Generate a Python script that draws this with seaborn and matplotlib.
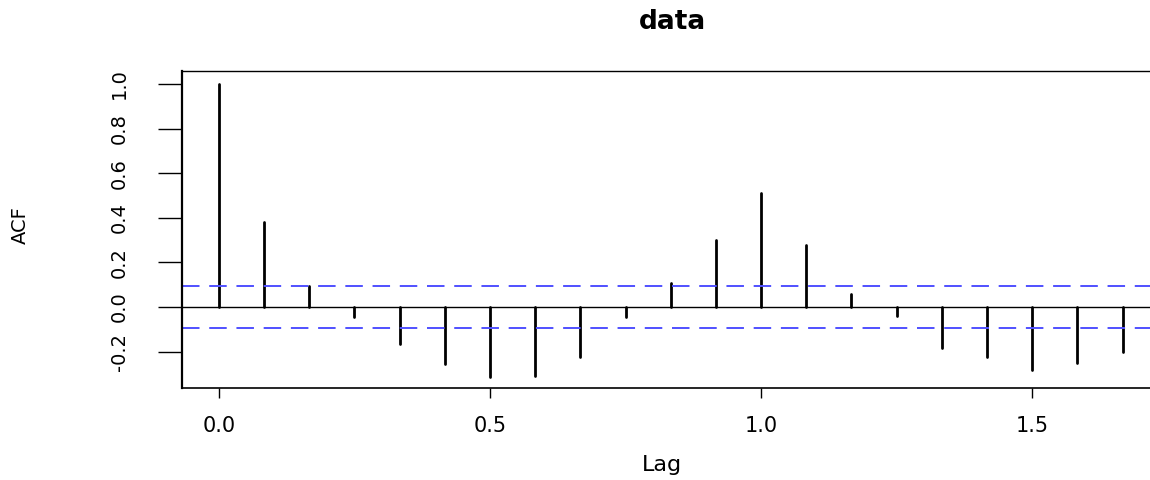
import numpy as np
import pandas as pd
import seaborn as sns
import matplotlib
matplotlib.use("Agg")
import matplotlib.pyplot as plt

# ACF values (monthly series, lag in years)
lags = [0, 1/12, 2/12, 3/12, 4/12, 5/12, 6/12, 7/12, 8/12, 9/12, 10/12,
        11/12, 1.0, 13/12, 14/12, 15/12, 16/12, 17/12, 18/12, 19/12, 20/12]
acf = [1.0, 0.383, 0.094, -0.043, -0.166, -0.256, -0.312, -0.31, -0.226, -0.043, 0.106,
       0.299, 0.511, 0.278, 0.06, -0.04, -0.185, -0.226, -0.281, -0.253, -0.2]
ci = 0.094
yticks = [-0.2, 0.0, 0.2, 0.4, 0.6, 0.8, 1.0]
xticks = [0.0, 0.5, 1.0, 1.5]

sns.set_theme(style="ticks")
plt.rcParams['font.family'] = ['DejaVu Sans']
plt.rcParams['text.color'] = 'black'
plt.rcParams['axes.labelcolor'] = 'black'

# long table: each stem goes from 0 to the acf value
stems = pd.DataFrame({
    'lag': np.repeat(lags, 2),
    'acf': np.ravel([[0.0, v] for v in acf]),
    'k': np.repeat(np.arange(len(lags)), 2),
})

fig = plt.figure(figsize=(11.5, 4.8), dpi=100)
ax = fig.add_axes([182/1150, 1 - 388/480, (1152 - 182)/1150, (388 - 71)/480])

sns.lineplot(data=stems, x='lag', y='acf', units='k', estimator=None,
             color='black', lw=2.0, ax=ax, legend=False)

ax.axhline(0, color='black', lw=1.0)
for c in (ci, -ci):
    ax.axhline(c, color='#5050ff', lw=1.4, dashes=(9, 5))

ax.set_xlim(-0.068, 1.721)
ax.set_ylim(-0.363, 1.058)
ax.set_xticks(xticks)
ax.set_xticklabels([f"{t:.1f}" for t in xticks])
ax.set_yticks(yticks)
ax.set_yticklabels([f"{t:.1f}" for t in yticks], rotation=90, va='center')
ax.tick_params(axis='x', length=7, width=1.0, pad=13, colors='black', labelsize=15)
ax.tick_params(axis='y', length=17, width=1.0, pad=21, colors='black', labelsize=14)

for side in ['left', 'bottom', 'top', 'right']:
    ax.spines[side].set_color('black')
ax.spines['left'].set_linewidth(1.6)
ax.spines['bottom'].set_linewidth(1.2)
ax.spines['top'].set_linewidth(1.0)

ax.set_xlabel('Lag', fontsize=16)
ax.xaxis.set_label_coords((662 - 182)/970, -(455 - 388)/317)
ax.set_ylabel('ACF', fontsize=14)
ax.yaxis.set_label_coords((30 - 182)/970, (388 - 225)/317)
fig.text(672/1150, 1 - 22/480, 'data', ha='center', va='center',
         fontsize=19, fontweight='bold')

fig.savefig('out.png', dpi=100, facecolor='white')
